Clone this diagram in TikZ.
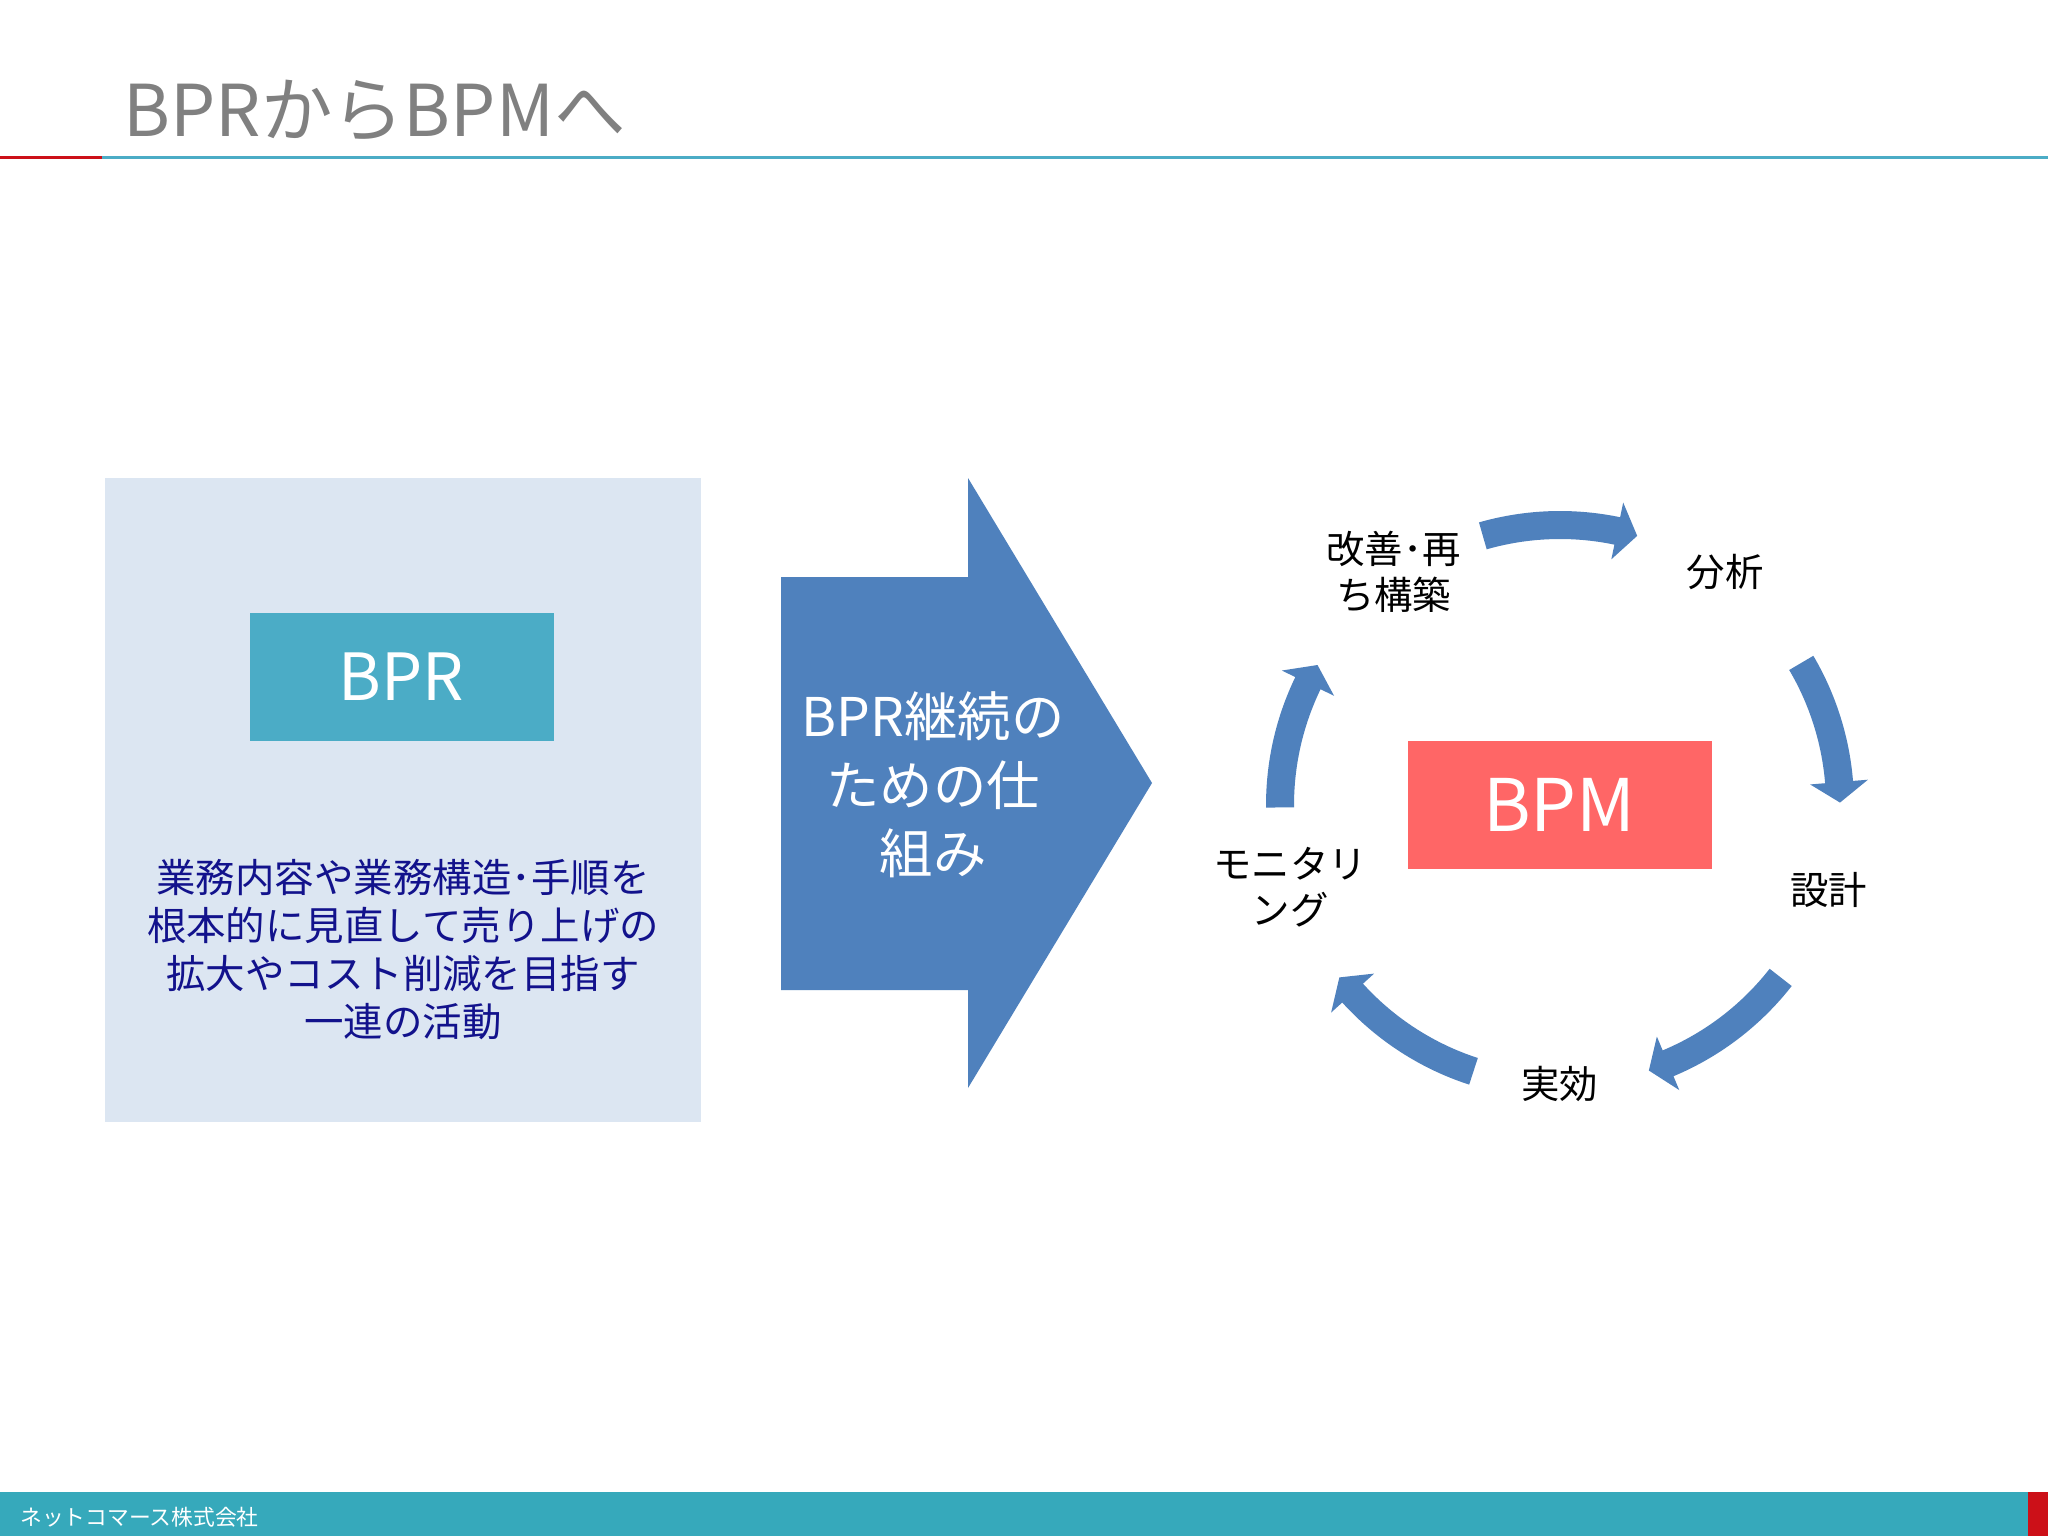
\documentclass[tikz,border=0pt]{standalone}
\usepackage{fontspec}
\setmainfont{Noto Sans CJK JP}
\usetikzlibrary{calc}
\definecolor{titlegray}{RGB}{128,128,128}
\definecolor{lineRed}{RGB}{204,16,24}
\definecolor{lineTeal}{RGB}{75,172,198}
\definecolor{footTeal}{RGB}{54,169,187}
\definecolor{panelBlue}{RGB}{220,230,242}
\definecolor{bprTeal}{RGB}{75,172,198}
\definecolor{arrowBlue}{RGB}{79,129,189}
\definecolor{bpmRed}{RGB}{255,102,102}
\definecolor{navyText}{RGB}{18,18,140}
\newcommand\cycarrow[2]{%
  \pgfmathsetmacro\CAt{-(#1)}%
  \pgfmathsetmacro\CAp{-(#2)}%
  \pgfmathsetmacro\CAb{-(#2)-4.2}%
  \fill[arrowBlue] ($(cyc)+(\CAt:294)$) arc[start angle=\CAt, end angle=\CAb, radius=294]
    -- ($(cyc)+(\CAb:309)$) -- ($(cyc)+(\CAp:280)$) -- ($(cyc)+(\CAb:251)$)
    -- ($(cyc)+(\CAb:266)$) arc[start angle=\CAb, end angle=\CAt, radius=266] -- cycle;%
}
\tikzset{
  boxnode/.style={inner sep=0pt, outer sep=0pt, minimum width=142.5pt, minimum height=60pt},
  cyclabel/.style={inner sep=0pt, align=center, font=\fontsize{18}{21.4}\selectfont, text=black},
}
\begin{document}
\begin{tikzpicture}[x=0.46875pt,y=-0.46875pt]
\useasboundingbox (0,0) rectangle (2048,1536);
\fill[white] (0,0) rectangle (2048,1536);
% title
\node[anchor=base west, inner sep=0pt, text=titlegray, font=\fontsize{33.5}{40}\selectfont] (title) at (123,136) {BPRからBPMへ};
\fill[lineRed] (0,155.5) rectangle (102,158.5);
\fill[lineTeal] (102,155.5) rectangle (2048,158.5);
% footer
\fill[footTeal] (0,1492) rectangle (2048,1536);
\fill[lineRed] (2028,1492) rectangle (2048,1536);
\node[anchor=west, inner sep=0pt, text=white, font=\fontsize{10.2}{12}\selectfont] (footer) at (20,1517) {ネットコマース株式会社};
% left panel
\node[fill=panelBlue, inner sep=0pt, minimum width=279.6pt, minimum height=301.9pt] (panel) at (402.75,800) {};
\node[boxnode, fill=bprTeal, text=white, font=\fontsize{30.5}{36}\selectfont] (bpr) at (401.6,676.5) {BPR};
\node[inner sep=0pt, align=center, text=navyText, font=\fontsize{18.5}{22.5}\selectfont] (desc) at (403,949.5)
  {業務内容や業務構造･手順を\\根本的に見直して売り上げの\\拡大やコスト削減を目指す\\一連の活動};
% big arrow
\fill[arrowBlue] (781,577) -- (968,577) -- (968,478) -- (1152,783) -- (968,1088) -- (968,990) -- (781,990) -- cycle;
\node[inner sep=0pt, align=center, text=white, font=\fontsize{25}{32}\selectfont] (bigtext) at (933,785)
  {BPR継続の\\ための仕\\組み};
% cycle
\coordinate (cyc) at (1560,805);
\node[boxnode, fill=bpmRed, text=white, font=\fontsize{34}{40}\selectfont] (bpm) at (1559.5,804.6) {BPM};
\cycarrow{106}{74}
\cycarrow{30.5}{0.5}
\cycarrow{-38}{-71.5}
\cycarrow{-108}{-142}
\cycarrow{180.5}{150}
\node[cyclabel] (kaizen) at (1393.6,572) {改善･再\\ち構築};
\node[cyclabel] (bunseki) at (1725,572) {分析};
\node[cyclabel] (sekkei) at (1828.6,889.5) {設計};
\node[cyclabel] (jikko) at (1559.5,1084) {実効};
\node[cyclabel] (monitor) at (1290,887) {モニタリ\\ング};
\end{tikzpicture}
\end{document}
